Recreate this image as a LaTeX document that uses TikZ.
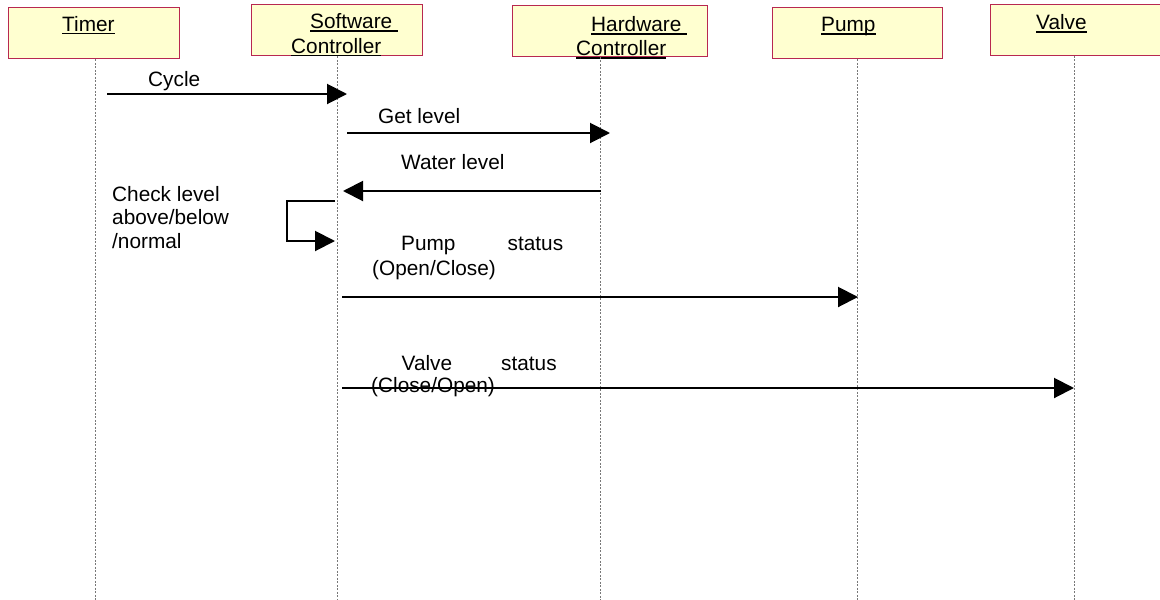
\documentclass[tikz,border=0pt]{standalone}
\usepackage{fontspec}
\setmainfont{Liberation Sans}
\usetikzlibrary{arrows.meta}
\definecolor{boxfill}{RGB}{255,255,208}
\definecolor{boxline}{RGB}{184,40,80}
\definecolor{lifegray}{RGB}{120,120,120}
\newcommand\myul[1]{\setbox0\hbox{#1}\rlap{\rule[-3.2pt]{\wd0}{1.7pt}}\box0}
\begin{document}
\begin{tikzpicture}[x=1pt,y=-1pt,
  objbox/.style={draw=boxline, fill=boxfill, line width=1.3pt, inner sep=0pt, anchor=north west, minimum height=51pt},
  lbl/.style={inner sep=0pt, anchor=base west, font=\fontsize{20.8}{23.5}\selectfont},
  life/.style={draw=lifegray, line width=1pt, dash pattern=on 2pt off 1.5pt},
  msg/.style={line width=2pt, -{Triangle[length=20pt,width=20pt]}},
]
\useasboundingbox (0,0) rectangle (1160,600);
\fill[white] (0,0) rectangle (1160,600);
\clip (0,0) rectangle (1160,600);

% object boxes
\node[objbox, minimum width=171pt] (timer) at (8,7) {};
\node[objbox, minimum width=171pt] (sw) at (251,4) {};
\node[objbox, minimum width=195pt] (hw) at (511.5,4.5) {};
\node[objbox, minimum width=170pt] (pump) at (772,7) {};
\node[objbox, minimum width=200pt] (valve) at (990,3.5) {};

% object labels
\node[lbl] (tml) at (62,31) {\myul{Timer}};
\node[lbl] (swl1) at (310,28.5) {\myul{Software\ }};
\node[lbl] (swl2) at (291,53) {\myul{Controller}};
\node[lbl] (hwl1) at (591,31.5) {\myul{Hardware\ }};
\node[lbl] (hwl2) at (576,55.5) {\myul{Controller}};
\node[lbl] (pml) at (821,31.5) {\myul{Pump}};
\node[lbl] (vll) at (1036,29.5) {\myul{Valve}};

% lifelines
\coordinate (tl) at (95.5,600);
\coordinate (sl) at (337.5,600);
\coordinate (hl) at (600.5,600);
\coordinate (pl) at (857.5,600);
\coordinate (vl) at (1074.5,600);
\draw[life] (timer.south -| tl) -- (tl);
\draw[life] (sw.south -| sl) -- (sl);
\draw[life] (hw.south -| hl) -- (hl);
\draw[life] (pump.south -| pl) -- (pl);
\draw[life] (valve.south -| vl) -- (vl);

% message labels
\node[lbl] (cycle) at (148,86.5) {Cycle};
\node[lbl] (getlvl) at (378,123) {Get level};
\node[lbl] (water) at (401,169) {Water level};
\node[lbl, align=left] (check) at (112,248) {Check level\\above/below\\/normal};
\node[lbl] (ps1) at (401,250) {\hbox to 162pt{Pump\hfill status}};
\node[lbl] (ps2) at (372,275) {(Open/Close)};
\node[lbl] (vs1) at (401.5,370) {\hbox to 155pt{Valve\hfill status}};
\node[lbl] (vs2) at (371,392) {(Close/Open)};

% messages
\coordinate (c1s) at (107,94);
\coordinate (c1e) at (347,94);
\draw[msg] (c1s) -- (c1e);

\coordinate (g1s) at (347,133);
\coordinate (g1e) at (610,133);
\draw[msg] (g1s) -- (g1e);

\coordinate (w1s) at (600.5,191);
\coordinate (w1e) at (343,191);
\draw[msg] (w1s) -- (w1e);

\coordinate (sa) at (335,201);
\coordinate (sb) at (287,201);
\coordinate (sc) at (335,241);
\draw[msg] (sa) -- (sb) |- (sc);

\coordinate (p1s) at (342,297);
\coordinate (p1e) at (858,297);
\draw[msg] (p1s) -- (p1e);

\coordinate (v1s) at (342,388);
\coordinate (v1e) at (1074,388);
\draw[msg] (v1s) -- (v1e);
\end{tikzpicture}
\end{document}
